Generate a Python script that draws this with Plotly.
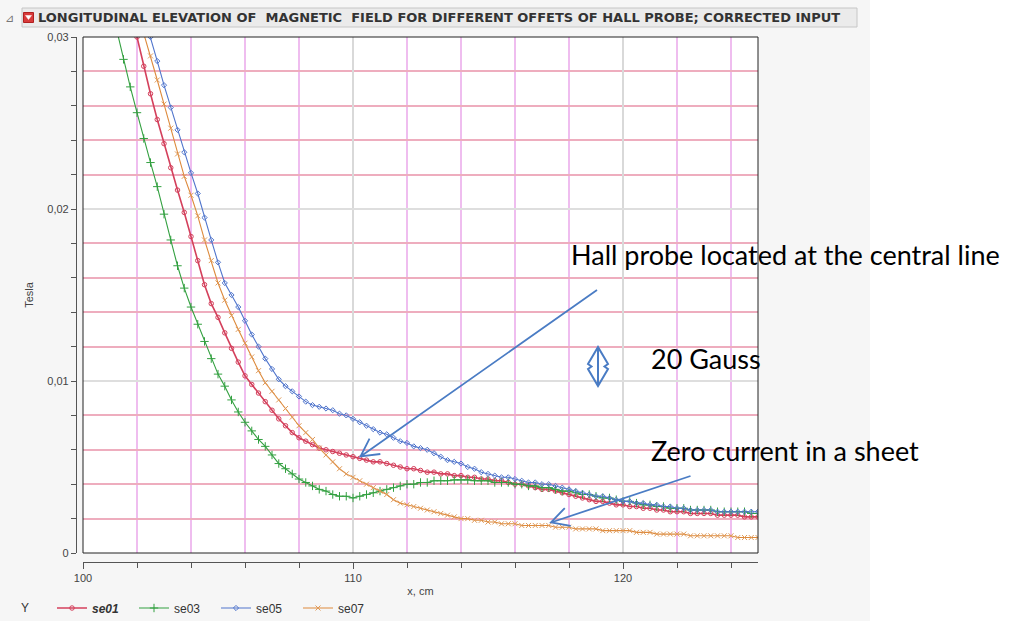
import math
import plotly.graph_objects as go

# ---------------- data ----------------
x_cm = [101.25, 101.5, 101.75, 102.0, 102.25, 102.5, 102.75, 103.0,
        103.25, 103.5, 103.75, 104.0, 104.25, 104.5, 104.75, 105.0,
        105.25, 105.5, 105.75, 106.0, 106.25, 106.5, 106.75, 107.0,
        107.25, 107.5, 107.75, 108.0, 108.25, 108.5, 108.75, 109.0,
        109.25, 109.5, 109.75, 110.0, 110.25, 110.5, 110.75, 111.0,
        111.25, 111.5, 111.75, 112.0, 112.25, 112.5, 112.75, 113.0,
        113.25, 113.5, 113.75, 114.0, 114.25, 114.5, 114.75, 115.0,
        115.25, 115.5, 115.75, 116.0, 116.25, 116.5, 116.75, 117.0,
        117.25, 117.5, 117.75, 118.0, 118.25, 118.5, 118.75, 119.0,
        119.25, 119.5, 119.75, 120.0, 120.25, 120.5, 120.75, 121.0,
        121.25, 121.5, 121.75, 122.0, 122.25, 122.5, 122.75, 123.0,
        123.25, 123.5, 123.75, 124.0, 124.25, 124.5, 124.75, 125.0]

se01 = [0.0370, 0.0345, 0.0322, 0.0300, 0.0283, 0.0267, 0.0252, 0.0238,
        0.0224, 0.0211, 0.0198, 0.0184, 0.0170, 0.0156, 0.0145, 0.0137,
        0.0128, 0.0119, 0.0111, 0.0103, 0.0098, 0.0093, 0.0088, 0.0083,
        0.0078, 0.0074, 0.0070, 0.0067, 0.0065, 0.0063, 0.0061, 0.0060,
        0.0059, 0.0058, 0.0057, 0.0056, 0.0055, 0.0054, 0.0053, 0.0053,
        0.0052, 0.0051, 0.0050, 0.0049, 0.0049, 0.0048, 0.0047, 0.0047,
        0.0046, 0.0046, 0.0045, 0.0045, 0.0044, 0.0044, 0.0043, 0.0043,
        0.0042, 0.0042, 0.0041, 0.0040, 0.0040, 0.0039, 0.0038, 0.0037,
        0.0037, 0.0036, 0.0035, 0.0034, 0.0033, 0.0032, 0.0031, 0.0030,
        0.0030, 0.0029, 0.0028, 0.0028, 0.0027, 0.0027, 0.0026, 0.0026,
        0.0025, 0.0025, 0.0024, 0.0024, 0.0024, 0.0023, 0.0023, 0.0023,
        0.0023, 0.0022, 0.0022, 0.0022, 0.0022, 0.0021, 0.0021, 0.0021]

se03 = [0.0304, 0.0287, 0.0271, 0.0256, 0.0241, 0.0227, 0.0213, 0.0197,
        0.0182, 0.0167, 0.0154, 0.0143, 0.0133, 0.0123, 0.0113, 0.0104,
        0.0097, 0.0089, 0.0082, 0.0076, 0.0071, 0.0066, 0.0062, 0.0057,
        0.0052, 0.0049, 0.0046, 0.0043, 0.0041, 0.0039, 0.0037, 0.0036,
        0.0034, 0.0033, 0.0033, 0.0032, 0.0033, 0.0034, 0.0035, 0.0036,
        0.0037, 0.0038, 0.0039, 0.0040, 0.0040, 0.0041, 0.0041, 0.0042,
        0.0042, 0.0042, 0.00425, 0.00425, 0.00425, 0.0042, 0.0042, 0.0042,
        0.0041, 0.0041, 0.0041, 0.0040, 0.0040, 0.0039, 0.0039, 0.0038,
        0.0038, 0.0037, 0.0036, 0.0036, 0.0035, 0.0034, 0.0034, 0.0033,
        0.0032, 0.0032, 0.0031, 0.0030, 0.0030, 0.0029, 0.0028, 0.0028,
        0.0027, 0.0027, 0.0026, 0.0026, 0.0026, 0.0025, 0.0025, 0.0025,
        0.0025, 0.0024, 0.0024, 0.0024, 0.0024, 0.0024, 0.0023, 0.0023]

se05 = [0.0400, 0.0375, 0.0350, 0.0328, 0.0313, 0.0300, 0.0286, 0.0272,
        0.0259, 0.0246, 0.0233, 0.0221, 0.0209, 0.0195, 0.0182, 0.0169,
        0.0157, 0.0150, 0.0143, 0.0135, 0.0127, 0.0120, 0.0113, 0.0107,
        0.0101, 0.0097, 0.0094, 0.0091, 0.0088, 0.0086, 0.0085, 0.0084,
        0.0083, 0.0081, 0.0080, 0.0078, 0.0076, 0.0074, 0.0072, 0.0070,
        0.0069, 0.0067, 0.0065, 0.0064, 0.0062, 0.0061, 0.0060, 0.0058,
        0.0056, 0.0054, 0.0053, 0.0052, 0.0050, 0.0049, 0.0047, 0.0046,
        0.0045, 0.0044, 0.0044, 0.0043, 0.0042, 0.0041, 0.0041, 0.0040,
        0.0040, 0.0039, 0.0038, 0.0037, 0.0036, 0.0035, 0.0034, 0.0033,
        0.0033, 0.0032, 0.0031, 0.0030, 0.0030, 0.0029, 0.0029, 0.0028,
        0.0028, 0.0027, 0.0027, 0.0026, 0.0026, 0.0025, 0.0025, 0.0025,
        0.0025, 0.0024, 0.0024, 0.0024, 0.0024, 0.0024, 0.0024, 0.0024]

se07 = [0.0360, 0.0345, 0.0330, 0.0315, 0.0302, 0.0289, 0.0275, 0.0261,
        0.0247, 0.0232, 0.0219, 0.0208, 0.0196, 0.0182, 0.0170, 0.0157,
        0.0147, 0.0138, 0.0130, 0.0122, 0.0114, 0.0106, 0.0099, 0.0094,
        0.0089, 0.0084, 0.0079, 0.0074, 0.0070, 0.0066, 0.0061, 0.0057,
        0.0053, 0.0049, 0.0046, 0.0044, 0.0042, 0.0040, 0.0038, 0.0036,
        0.0034, 0.0031, 0.0029, 0.0028, 0.0027, 0.0026, 0.0025, 0.0024,
        0.0023, 0.0022, 0.0021, 0.0020, 0.0020, 0.0019, 0.0019, 0.0018,
        0.0018, 0.0017, 0.0017, 0.0017, 0.0016, 0.0016, 0.0016, 0.0016,
        0.0016, 0.0015, 0.0015, 0.0015, 0.0014, 0.0014, 0.0014, 0.0014,
        0.0013, 0.0013, 0.0013, 0.0013, 0.0013, 0.0012, 0.0012, 0.0012,
        0.0011, 0.0011, 0.0011, 0.0011, 0.0011, 0.0010, 0.0010, 0.0010,
        0.0010, 0.0010, 0.0010, 0.0010, 0.0009, 0.0009, 0.0009, 0.0009]

series_names = ["<b><i>se01</i></b>", "se03", "se05", "se07"]
y_tickvals = [0, 0.01, 0.02, 0.03]
y_ticklabels = ["0", "0,01", "0,02", "0,03"]
x_tickvals = [100, 110, 120]
x_ticklabels = ["100", "110", "120"]

title_text = ("LONGITUDINAL ELEVATION OF  MAGNETIC  FIELD FOR DIFFERENT "
              "OFFETS OF HALL PROBE; CORRECTED INPUT")
note_probe = "Hall probe located at the central line"
note_gauss = "20 Gauss"
note_zero = "Zero current in a sheet"

# ---------------- layout geometry helpers (pixels -> paper / axis) ----------------
L, R, T, B = 76, 254, 37, 59
W, H = 1012, 621
PW, PH = W - L - R, H - T - B
PLOT_LEFT, PLOT_BOTTOM = 83, 553


def px(xp):
    return (xp - L) / PW


def py(yp):
    return (H - B - yp) / PH


def ax_x(xp):
    return 100 + (xp - PLOT_LEFT) / 27.0


def ax_y(yp):
    return (PLOT_BOTTOM - yp) / 17200.0


def arrow_path(tail, head, arm=20.0, half_angle=28.0):
    """Shaft plus open V head, built in reference pixels, returned in axis units."""
    ang = math.atan2(tail[1] - head[1], tail[0] - head[0])
    pts = []
    for s in (1, -1):
        a = ang + s * math.radians(half_angle)
        pts.append((head[0] + arm * math.cos(a), head[1] + arm * math.sin(a)))
    return (f"M {ax_x(tail[0])} {ax_y(tail[1])} L {ax_x(head[0])} {ax_y(head[1])} "
            f"M {ax_x(pts[0][0])} {ax_y(pts[0][1])} L {ax_x(head[0])} {ax_y(head[1])} "
            f"L {ax_x(pts[1][0])} {ax_y(pts[1][1])}")


# ---------------- figure ----------------
fig = go.Figure()

styles = [
    dict(color="#d4405c", width=1.6, symbol="circle-open", size=4.5, mcolor="#d4405c"),
    dict(color="#33a040", width=1.1, symbol="cross-thin", size=6, mcolor="#33a040"),
    dict(color="#5075cc", width=1.1, symbol="diamond-open", size=4, mcolor="#5075cc"),
    dict(color="#dd8a3c", width=1.1, symbol="x-thin", size=5, mcolor="#e09a58"),
]
for name, ys, st in zip(series_names, [se01, se03, se05, se07], styles):
    fig.add_trace(go.Scatter(
        x=x_cm, y=ys, name=name, mode="lines+markers",
        line=dict(color=st["color"], width=st["width"]),
        marker=dict(symbol=st["symbol"], size=st["size"], color=st["mcolor"],
                    line=dict(color=st["mcolor"], width=1)),
    ))

blue = "#4a7cc4"
shapes = [
    # light grey panel
    dict(type="rect", xref="paper", yref="paper", x0=px(0), x1=px(870), y0=py(H), y1=py(0),
         fillcolor="#f6f6f6", line=dict(width=0), layer="below"),
    # white plotting area
    dict(type="rect", xref="paper", yref="paper", x0=px(PLOT_LEFT), x1=1, y0=py(PLOT_BOTTOM), y1=1,
         fillcolor="white", line=dict(width=0), layer="below"),
    # title bar
    dict(type="rect", xref="paper", yref="paper", x0=px(22), x1=px(857), y0=py(27), y1=py(8),
         fillcolor="#ebebeb", line=dict(color="#c6c6c6", width=1), layer="below"),
    # red drop-down icon
    dict(type="rect", xref="paper", yref="paper", x0=px(23.5), x1=px(33.5), y0=py(22.5), y1=py(12.5),
         fillcolor="#d83a3a", line=dict(color="#b02020", width=1), layer="above"),
    dict(type="path", xref="paper", yref="paper",
         path=f"M {px(25.5)} {py(15.5)} L {px(31.5)} {py(15.5)} L {px(28.5)} {py(19.5)} Z",
         fillcolor="white", line=dict(color="white", width=0.5), layer="above"),
    # black frame of the plotting area
    dict(type="rect", xref="x domain", yref="y domain", x0=0, x1=1, y0=0, y1=1,
         line=dict(color="#222222", width=1), fillcolor="rgba(0,0,0,0)", layer="above"),
    # pointer arrows
    dict(type="path", xref="x", yref="y", path=arrow_path((597, 290), (360.5, 456.5)),
         line=dict(color=blue, width=1.8), layer="above"),
    dict(type="path", xref="x", yref="y", path=arrow_path((690.5, 476), (551, 522.5)),
         line=dict(color=blue, width=1.8), layer="above"),
]

# "20 Gauss" double-headed outline arrow
dbl = (f"M {ax_x(598)} {ax_y(347)} L {ax_x(588)} {ax_y(364)} L {ax_x(591.5)} {ax_y(366.5)} "
       f"L {ax_x(588)} {ax_y(369)} L {ax_x(598)} {ax_y(386)} L {ax_x(608)} {ax_y(369)} "
       f"L {ax_x(604.5)} {ax_y(366.5)} L {ax_x(608)} {ax_y(364)} Z "
       f"M {ax_x(598)} {ax_y(349)} L {ax_x(598)} {ax_y(384)}")
shapes.append(dict(type="path", xref="x", yref="y", path=dbl,
                   line=dict(color=blue, width=2), fillcolor="rgba(0,0,0,0)", layer="above"))

note_font = dict(family="Lato, Liberation Sans, sans-serif", size=27, color="black")

annotations = [
    dict(text=f"<b>{title_text}</b>", xref="paper", yref="paper", x=px(36), y=py(17.5),
         xanchor="left", yanchor="middle", showarrow=False,
         font=dict(family="DejaVu Sans, Liberation Sans, sans-serif", size=13, color="#333333")),
    dict(text="⊿", xref="paper", yref="paper", x=px(3), y=py(17.5), xanchor="left",
         yanchor="middle", showarrow=False, font=dict(size=11, color="#777777")),
    dict(text="Y", xref="paper", yref="paper", x=px(19), y=py(608), xanchor="left",
         yanchor="middle", showarrow=False,
         font=dict(family="Liberation Sans, Arial, sans-serif", size=12, color="#333333")),
    dict(text=note_probe, xref="paper", yref="paper", x=px(569), y=py(255), xanchor="left",
         yanchor="middle", showarrow=False, font=note_font),
    dict(text=note_gauss, xref="paper", yref="paper", x=px(649), y=py(358), xanchor="left",
         yanchor="middle", showarrow=False, font=note_font),
    dict(text=note_zero, xref="paper", yref="paper", x=px(649), y=py(450), xanchor="left",
         yanchor="middle", showarrow=False, font=note_font),
]

axis_font = dict(family="Liberation Sans, Arial, sans-serif", size=11, color="#444444")

fig.update_layout(
    width=W, height=H,
    margin=dict(l=L, r=R, t=T, b=B, pad=0, autoexpand=False),
    paper_bgcolor="white", plot_bgcolor="white",
    separators=",.",
    font=axis_font,
    shapes=shapes, annotations=annotations,
    showlegend=True,
    legend=dict(orientation="h", x=px(52), y=py(608), xanchor="left", yanchor="middle",
                font=dict(family="Liberation Sans, Arial, sans-serif", size=12, color="#333333"),
                bgcolor="rgba(0,0,0,0)", entrywidth=37, entrywidthmode="pixels",
                itemwidth=30, tracegroupgap=0),
    xaxis=dict(domain=[px(PLOT_LEFT), 1], range=[100, 125], anchor="free", position=0,
               automargin=False,
               showline=True, linecolor="#555555", linewidth=1.2,
               tickmode="array", tickvals=x_tickvals, ticktext=x_ticklabels,
               ticks="outside", ticklen=6, tickcolor="#555555", tickfont=axis_font,
               showgrid=True, gridcolor="#d9d9d9", gridwidth=1.5, zeroline=False,
               minor=dict(tick0=100, dtick=2, ticks="outside", ticklen=5, tickcolor="#555555",
                          showgrid=True, gridcolor="#efbdef", gridwidth=1.5),
               title=dict(text="x, cm", font=axis_font, standoff=4)),
    yaxis=dict(domain=[py(PLOT_BOTTOM), 1], range=[0, 0.03], anchor="free", position=0,
               automargin=False,
               showline=True, linecolor="#555555", linewidth=1.2,
               tickmode="array", tickvals=y_tickvals, ticktext=y_ticklabels,
               ticks="outside", ticklen=5, tickcolor="#555555", tickfont=axis_font,
               showgrid=True, gridcolor="#dedede", gridwidth=1.5, zeroline=False,
               minor=dict(tick0=0, dtick=0.002, ticks="outside", ticklen=5, tickcolor="#555555",
                          showgrid=True, gridcolor="#eeadbe", gridwidth=1.5),
               title=dict(text="Tesla", font=axis_font, standoff=10)),
)

fig.write_html("out.html")
